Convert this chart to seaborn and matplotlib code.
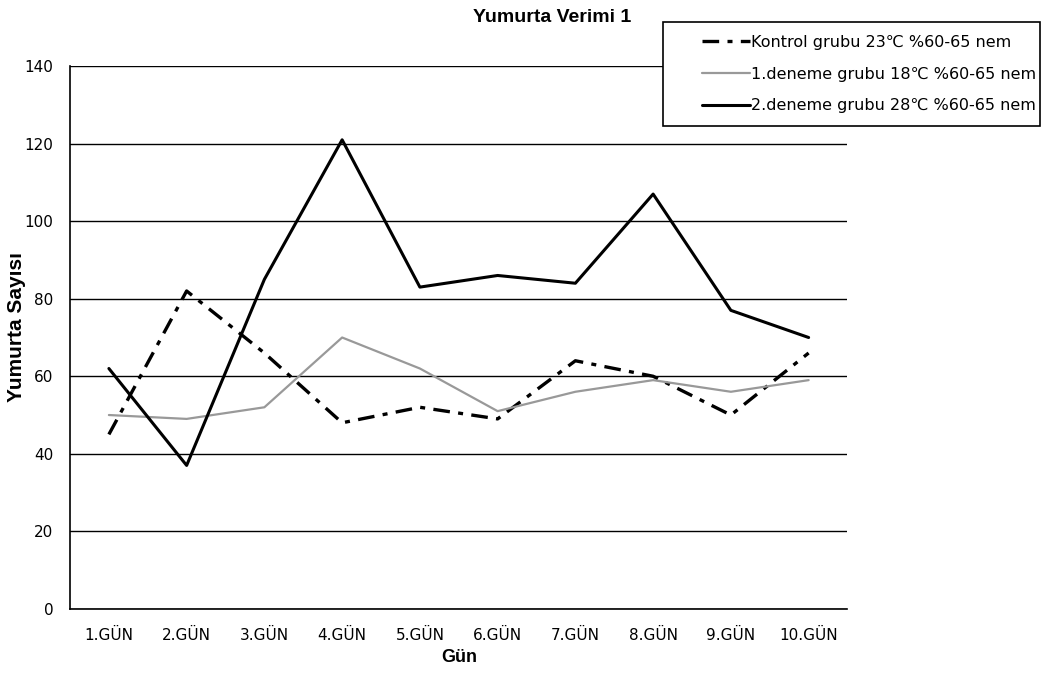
"""
Yumurta verimi grafiği
"""

import pandas as pd
import matplotlib.pyplot as plt
import seaborn as sns
from matplotlib.patches import Rectangle
from matplotlib.ticker import FixedLocator

sns.set_style("white")
plt.rcParams['font.family'] = ['DejaVu Sans']
plt.rcParams['font.size'] = 11
for k in ['text.color', 'axes.labelcolor', 'xtick.color', 'ytick.color']:
    plt.rcParams[k] = 'black'

# Veriler
gunler = ['1.GÜN', '2.GÜN', '3.GÜN', '4.GÜN', '5.GÜN',
          '6.GÜN', '7.GÜN', '8.GÜN', '9.GÜN', '10.GÜN']
kontrol = [45, 82, 66, 48, 52, 49, 64, 60, 50, 66]
deneme1 = [50, 49, 52, 70, 62, 51, 56, 59, 56, 59]
deneme2 = [62, 37, 85, 121, 83, 86, 84, 107, 77, 70]

etiketler = ['Kontrol grubu 23℃ %60-65 nem',
             '1.deneme grubu 18℃ %60-65 nem',
             '2.deneme grubu 28℃ %60-65 nem']

df = pd.DataFrame({
    'Gün': list(range(len(gunler))) * 3,
    'Sayı': kontrol + deneme1 + deneme2,
    'Grup': [etiketler[0]] * 10 + [etiketler[1]] * 10 + [etiketler[2]] * 10,
})

fig = plt.figure(figsize=(10.45, 6.75), dpi=100)
ax = fig.add_axes([0.067, 0.098, 0.744, 0.804])

renkler = {etiketler[0]: 'black', etiketler[1]: '#999999', etiketler[2]: 'black'}
sns.lineplot(data=df, x='Gün', y='Sayı', hue='Grup', palette=renkler,
             legend=False, ax=ax)

# çizgi stilleri
stiller = [dict(lw=2.4, dashes=(5, 2.5, 1.5, 2.5)), dict(lw=1.6), dict(lw=2.2)]
for line, st in zip(ax.get_lines(), stiller):
    line.set_linewidth(st['lw'])
    if 'dashes' in st:
        line.set_dashes(st['dashes'])

ax.set_xlim(-0.5, 9.5)
ax.set_ylim(0, 140)
ax.set_yticks(range(0, 141, 20))
ax.set_xticks(range(10))
ax.set_xticklabels(gunler)
ax.xaxis.set_minor_locator(FixedLocator([i - 0.5 for i in range(11)]))
ax.tick_params(axis='x', which='major', length=0, pad=14, labelsize=11)
ax.tick_params(axis='x', which='minor', length=5, width=1, color='black', direction='out')
ax.tick_params(axis='y', length=5, width=1, color='black', direction='out',
               pad=7, labelsize=11)
ax.yaxis.grid(True, color='black', linewidth=1)
ax.set_axisbelow(True)

for s in ['top', 'right']:
    ax.spines[s].set_visible(False)
for s in ['left', 'bottom']:
    ax.spines[s].set_color('black')
    ax.spines[s].set_linewidth(1.2)

ax.set_xlabel('Gün', fontsize=13, fontweight='bold', labelpad=4,
              family='Liberation Sans')
ax.set_ylabel('Yumurta Sayısı', fontsize=15, fontweight='bold',
              family='Liberation Sans')
ax.yaxis.set_label_coords(-0.057, 0.519)
fig.text(552 / 1045, 1 - 17 / 675, 'Yumurta Verimi 1', ha='center', va='center',
         fontsize=14, fontweight='bold', family='Liberation Sans')

# lejant
leg = fig.legend(ax.get_lines(), etiketler, loc='center right',
                 bbox_to_anchor=(1044 / 1045, (675 - 74) / 675),
                 frameon=False, fontsize=11.5, handlelength=3.0,
                 labelspacing=1.05, borderpad=0, handletextpad=0.05)
leg.set_zorder(5)
fig.patches.append(Rectangle((663 / 1045, (675 - 126) / 675), 377 / 1045, 104 / 675,
                             transform=fig.transFigure, facecolor='white',
                             edgecolor='black', linewidth=1.2, zorder=4))

fig.savefig('out.png', dpi=100)
